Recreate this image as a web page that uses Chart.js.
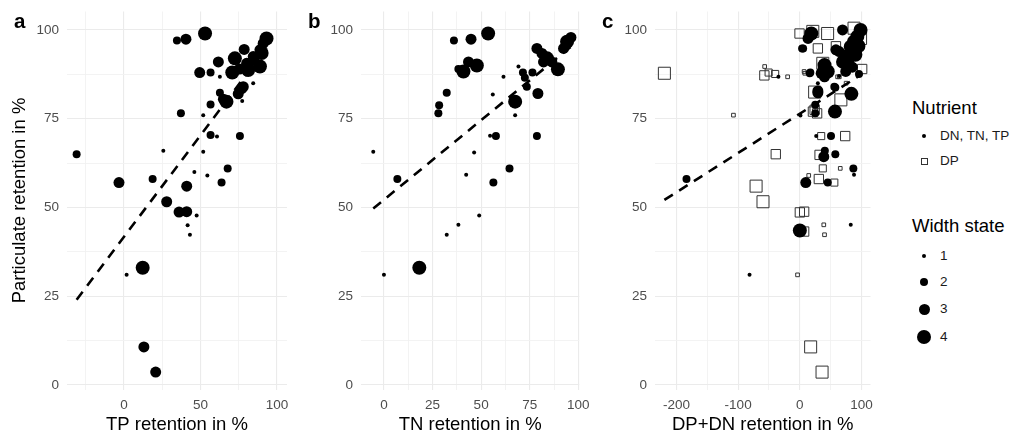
<!DOCTYPE html>
<html>
<head>
<meta charset="utf-8">
<script src="https://cdn.jsdelivr.net/npm/chart.js@4.4.1/dist/chart.umd.min.js"></script>
<style>
  body { margin: 0; background: #fff; font-family: "Liberation Sans", Arial, sans-serif; }
  #wrap { position: relative; width: 1027px; height: 434px; overflow: hidden; }
  canvas { position: absolute; top: 0; }
  .tag { position: absolute; font-weight: bold; font-size: 20.5px; line-height: 20.5px; color: #000; }
  .ltitle { position: absolute; font-size: 18.5px; line-height: 22px; color: #000; }
  .ltext { position: absolute; font-size: 13.5px; line-height: 16px; color: #1a1a1a; }
  .dot { position: absolute; background: #000; border-radius: 50%; }
  .sq { position: absolute; border: 1px solid #333; box-sizing: border-box; }
</style>
</head>
<body>
<div id="wrap">
  <canvas id="chartA" width="295" height="434" style="left:0px"></canvas>
  <canvas id="chartB" width="292" height="434" style="left:300px"></canvas>
  <canvas id="chartC" width="285" height="434" style="left:595px"></canvas>
  <div class="tag" style="left:14px; top:11px">a</div>
  <div class="tag" style="left:308px; top:11px">b</div>
  <div class="tag" style="left:602px; top:11px">c</div>
  <div id="legend"></div>
</div>
<script>
// --- data ---------------------------------------------------------------
// panel a: TP retention vs particulate retention
const tpX = [-31, -3.3, 18.7, 25.7, 27.9, 36, 41, 41, 37.2, 34.6, 40.5, 53, 46, 51.8, 51.8, 54.5, 56.6, 60.8,
  56.6, 49.5, 56.6, 61.7, 62.7, 62.7, 67, 65, 63.8, 67.8, 75.8, 77.3, 74.7, 78, 72.5, 70.8, 78.6, 84.5, 81.2,
  88.9, 84.5, 88.9, 91, 93.2, 80.2, 47.5, 41.6, 43.1, 1.7, 12.2, 13, 20.7, 90, 84.5, 77, 75.5];
const tpY = [65, 57, 58, 66, 51.6, 48.7, 48.8, 56, 76.5, 97, 97.4, 99, 60, 65.7, 76, 59, 70.4, 70,
  79, 88, 88, 91, 86.8, 82.3, 79.8, 80.5, 57, 61, 70.1, 80, 82, 84, 92, 88, 94.5, 85, 88.7,
  89.7, 91.5, 94.4, 96.2, 97.6, 90.6, 47.7, 45, 42.3, 31, 33, 10.7, 3.6, 93.5, 92.5, 83.5, 89];
const tpW = [2, 3, 2, 1, 3, 3, 3, 3, 2, 2, 3, 4, 1, 1, 1, 1, 2, 1,
  2, 3, 2, 3, 1, 2, 4, 3, 2, 2, 2, 1, 3, 3, 4, 4, 3, 1, 4,
  4, 3, 3, 3, 4, 3, 1, 1, 1, 1, 4, 3, 3, 4, 3, 3, 3];

// panel b: TN retention vs particulate retention
const tnX = [-5.5, 6.9, 28.4, 28, 32.3, 36, 44.8, 53.6, 40.9, 43.5, 47.8, 38.3, 56, 61.5, 69.2, 71.5, 76.4,
  73.5, 67.5, 67.5, 79.2, 78.7, 57.6, 54.6, 46.4, 42.3, 56.3, 64.6, 49, 89.5, 78.7, 81.3, 83.9, 86.4, 82.1,
  92.4, 94.2, 96.2, 32.3, 38.3, 0, 18.2, 72.5];
const tnY = [65.7, 58, 78.8, 76.5, 82.3, 97, 97.4, 99, 88.3, 91, 90, 89, 81.8, 86.8, 89.7, 88, 88,
  84, 79.8, 76, 82.1, 70.1, 70.1, 70.2, 65.5, 59.2, 57, 61, 47.7, 88.9, 94.8, 93.4, 92, 91, 91,
  94.8, 96.7, 97.9, 42.3, 45.1, 31, 33, 86.5];
const tnW = [1, 2, 2, 2, 2, 2, 3, 4, 4, 3, 4, 2, 1, 1, 1, 2, 2,
  2, 4, 1, 3, 2, 2, 1, 1, 1, 2, 2, 1, 4, 3, 3, 4, 3, 3,
  3, 4, 3, 1, 1, 1, 4, 2];

// panel c: DP+DN retention vs particulate retention, DN (circles)
const dnX = [-183.7, -34.7, 5.3, 18.6, 13.3, 69.2, 58.5, 17, 40, 45.2, 40, 57.5, 29.2, 63.9, 74.4, 95.8, 83.5,
  56.9, 29.2, 25, 25, 1, 26.5, 50.5, 38.8, 57.5, 86.7, 87.8, 9.6, 45.2, 0, 82.5, -81.5, 98.4, 93.1, 87.8,
  82.5, 63.9, 74.4, 79.9, 34.6, 16, 55.9, 40, 3.7, 90, 95, 70, 85, 40.5, 29.2];
const dnY = [58, 86.8, 94.8, 99, 97.6, 100, 94.4, 88, 90.1, 88.3, 86.8, 83.8, 85, 87, 88.3, 87.6, 82,
  77, 82.3, 78.9, 76.5, 75.9, 70.1, 70.1, 64.3, 65, 61, 59.2, 57, 57, 43.5, 45.1, 31, 100, 98.1, 96.7,
  95.3, 93.9, 92.5, 90.6, 87.8, 87.8, 84, 89, 94.8, 93, 95.5, 91, 89.5, 66, 82.8];
const dnW = [2, 1, 2, 4, 3, 3, 3, 2, 4, 4, 3, 2, 1, 1, 3, 2, 4,
  4, 3, 2, 2, 1, 1, 2, 3, 2, 2, 1, 3, 2, 4, 1, 1, 4, 4, 4,
  4, 3, 4, 3, 3, 2, 2, 4, 2, 4, 4, 4, 3, 2, 3];

// panel c: DP (open squares)
const dpX = [-219.5, -107.6, -70.9, -59.7, -39, -57, -57.5, -50.6, -40, -19.8, 6.9, -0.5, 21, 45, 29.2, 58.5,
  37.2, 63.9, 66.5, 24, 24, 34.6, 73.5, 32, 37.2, 65.5, 14.4, 30.8, 55.9, 0, 7, 7, 38.8, 40, -3.7, 17.5, 36,
  87.8, 98.4, 101, 8, 61.2, 21.2, 90, 75, 28];
const dpY = [87.8, 76, 56, 51.6, 65, 89.7, 87.2, 88, 87.6, 86.8, 88.3, 99, 99.6, 99, 94.8, 95.4,
  90.6, 86.8, 80.3, 82.5, 77.5, 70.1, 70.1, 64.8, 61, 61, 59, 58, 57, 48.6, 48.8, 43.2, 45.1, 42.3, 31, 10.7, 3.6,
  100.5, 97.6, 89, 87.8, 86.8, 77, 94.5, 85, 76.5];
const dpW = [4, 1, 4, 4, 3, 1, 3, 2, 2, 1, 1, 3, 4, 4, 3, 3,
  4, 1, 4, 4, 3, 2, 3, 3, 2, 1, 1, 3, 2, 3, 3, 3, 1, 1, 1, 4, 4,
  4, 4, 3, 1, 1, 3, 4, 1, 3];

// fitted lines (end points)
const fitTpX = [-31, 93.2], fitTpY = [24, 95];
const fitTnX = [-5.5, 96.2], fitTnY = [49.7, 95.3];
const fitCX = [-219.5, 101], fitCY = [52.1, 87.6];

// ticks
const yTicks = [0, 25, 50, 75, 100];
const yGrid = [0, 12.5, 25, 37.5, 50, 62.5, 75, 87.5, 100];
const tpTicks = [0, 50, 100];
const tpGrid = [-25, 0, 25, 50, 75, 100];
const tnTicks = [0, 25, 50, 75, 100];
const tnGrid = [0, 12.5, 25, 37.5, 50, 62.5, 75, 87.5, 100];
const cTicks = [-200, -100, 0, 100];
const cGrid = [-200, -150, -100, -50, 0, 50, 100];

const widthStates = ['1', '2', '3', '4'];
const nutrients = ['DN, TN, TP', 'DP'];

// --- styling --------------------------------------------------------------
const circleR = {1: 2, 2: 4, 3: 5.5, 4: 7};
const squareR = {1: 2.6, 2: 5, 3: 6.6, 4: 8.5};
Chart.defaults.font.family = '"Liberation Sans", Arial, sans-serif';

const toPts = (xs, ys, ws) => xs.map((x, i) => ({x: x, y: ys[i], w: ws ? ws[i] : 1}));

const fitSet = (xs, ys) => ({
  data: toPts(xs, ys), showLine: true, pointRadius: 0, borderColor: '#000',
  borderWidth: 2.6, borderDash: [10, 7.5], fill: false
});
const circleSet = (xs, ys, ws) => ({
  data: toPts(xs, ys, ws), pointStyle: 'circle', backgroundColor: '#000', borderWidth: 0,
  pointRadius: c => circleR[c.raw.w]
});
const squareSet = (xs, ys, ws) => ({
  data: toPts(xs, ys, ws), pointStyle: 'rect', backgroundColor: 'rgba(0,0,0,0)', borderColor: '#333',
  borderWidth: 1, pointRadius: c => squareR[c.raw.w]
});

function makePanel(id, o) {
  return new Chart(document.getElementById(id), {
    type: 'scatter',
    data: { datasets: o.datasets },
    options: {
      responsive: false,
      animation: false,
      events: [],
      layout: { padding: { top: 11.5, right: o.padRight, left: 0, bottom: 0 } },
      plugins: { legend: { display: false }, tooltip: { enabled: false } },
      scales: {
        x: {
          type: 'linear', min: o.xMin, max: o.xMax,
          afterBuildTicks: ax => { ax.ticks = o.xGrid.map(v => ({value: v})); },
          afterFit: ax => { ax.height = 44.5; },
          ticks: {
            // padding kept at 0 so edge labels don't eat into the plot; lineHeight pushes labels down
            autoSkip: false, maxRotation: 0, padding: 0, color: '#4d4d4d', font: { size: 13.5, lineHeight: 2.3 },
            callback: v => o.xTicks.includes(v) ? String(v) : ''
          },
          grid: {
            drawTicks: false,
            color: c => o.xTicks.includes(c.tick.value) ? '#ebebeb' : '#f2f2f2',
            lineWidth: c => o.xTicks.includes(c.tick.value) ? 1.1 : 0.9
          },
          border: { display: false },
          title: {
            display: true, text: o.xTitle, color: '#000', font: { size: 18.5, lineHeight: 1 },
            padding: { top: 0, bottom: 0 }
          }
        },
        y: {
          type: 'linear', min: -1.3, max: 105.2,
          afterBuildTicks: ax => { ax.ticks = yGrid.map(v => ({value: v})); },
          afterFit: ax => { ax.width = o.axisWidth; },
          ticks: {
            autoSkip: false, padding: 8, color: '#4d4d4d', font: { size: 13.5, lineHeight: 0.5 },
            callback: v => yTicks.includes(v) ? String(v) : ''
          },
          grid: {
            drawTicks: false,
            color: c => yTicks.includes(c.tick.value) ? '#ebebeb' : '#f2f2f2',
            lineWidth: c => yTicks.includes(c.tick.value) ? 1.1 : 0.9
          },
          border: { display: false },
          title: {
            display: !!o.yTitle, text: o.yTitle || '', color: '#000', font: { size: 18.5 },
            padding: { top: 9, bottom: 0 }
          }
        }
      }
    }
  });
}

makePanel('chartA', {
  datasets: [fitSet(fitTpX, fitTpY), circleSet(tpX, tpY, tpW)],
  xMin: -37.3, xMax: 106.6, xTicks: tpTicks, xGrid: tpGrid,
  xTitle: 'TP retention in %', yTitle: 'Particulate retention in %',
  axisWidth: 67, padRight: 8
});
makePanel('chartB', {
  datasets: [fitSet(fitTnX, fitTnY), circleSet(tnX, tnY, tnW)],
  xMin: -11.8, xMax: 100.5, xTicks: tnTicks, xGrid: tnGrid,
  xTitle: 'TN retention in %', axisWidth: 61, padRight: 12.7
});
makePanel('chartC', {
  datasets: [fitSet(fitCX, fitCY), circleSet(dnX, dnY, dnW), squareSet(dpX, dpY, dpW)],
  xMin: -234.7, xMax: 114.5, xTicks: cTicks, xGrid: cGrid,
  xTitle: 'DP+DN retention in %', axisWidth: 60, padRight: 6.7
});

// --- legend (html) ----------------------------------------------------------
const lg = document.getElementById('legend');
function add(cls, css, text) {
  const d = document.createElement('div');
  d.className = cls;
  Object.assign(d.style, css);
  if (text) d.textContent = text;
  lg.appendChild(d);
}
const keyX = 924, textX = 940;
add('ltitle', { left: '912px', top: '97px' }, 'Nutrient');
const nutY = [136, 161];
add('dot', { left: (keyX - 2.3) + 'px', top: (nutY[0] - 2.3) + 'px', width: '4.6px', height: '4.6px' });
add('sq', { left: (keyX - 3.5) + 'px', top: (nutY[1] - 3.5) + 'px', width: '7px', height: '7px' });
nutrients.forEach((t, i) => add('ltext', { left: textX + 'px', top: (nutY[i] - 8) + 'px' }, t));

add('ltitle', { left: '912px', top: '215px' }, 'Width state');
const wY = [256, 282, 309, 337];
widthStates.forEach((t, i) => {
  const r = circleR[i + 1];
  add('dot', { left: (keyX - r) + 'px', top: (wY[i] - r) + 'px', width: 2 * r + 'px', height: 2 * r + 'px' });
  add('ltext', { left: textX + 'px', top: (wY[i] - 8) + 'px' }, t);
});
</script>
</body>
</html>
